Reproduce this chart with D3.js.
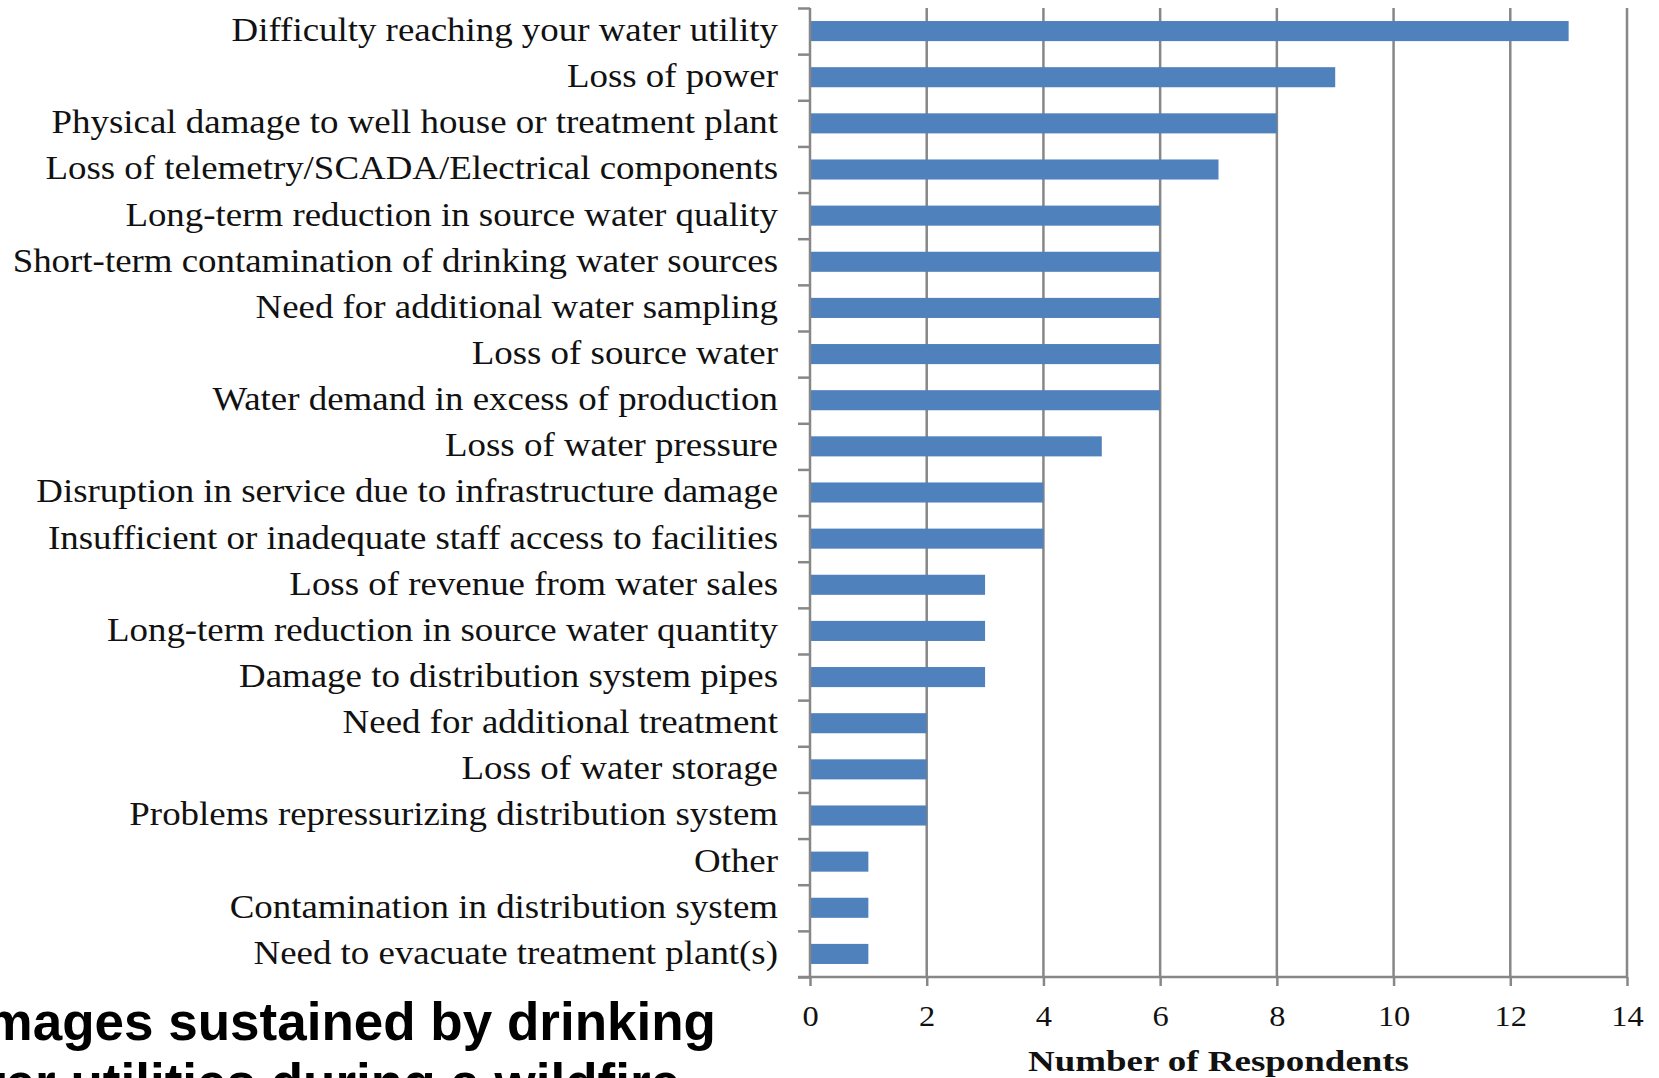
<!DOCTYPE html>
<html>
<head>
<meta charset="utf-8">
<script src="https://cdn.jsdelivr.net/npm/d3@7"></script>
<style>
  html, body { margin: 0; padding: 0; background: #fff; }
  svg { display: block; }
</style>
</head>
<body>
<svg id="chart" width="1659" height="1078"></svg>
<script>
const categories = [
  "Difficulty reaching your water utility",
  "Loss of power",
  "Physical damage to well house or treatment plant",
  "Loss of telemetry/SCADA/Electrical components",
  "Long-term reduction in source water quality",
  "Short-term contamination of drinking water sources",
  "Need for additional water sampling",
  "Loss of source water",
  "Water demand in excess of production",
  "Loss of water pressure",
  "Disruption in service due to infrastructure damage",
  "Insufficient or inadequate staff access to facilities",
  "Loss of revenue from water sales",
  "Long-term reduction in source water quantity",
  "Damage to distribution system pipes",
  "Need for additional treatment",
  "Loss of water storage",
  "Problems repressurizing distribution system",
  "Other",
  "Contamination in distribution system",
  "Need to evacuate treatment plant(s)"
];
const respondents = [13, 9, 8, 7, 6, 6, 6, 6, 6, 5, 4, 4, 3, 3, 3, 2, 2, 2, 1, 1, 1];
const xTicks = [0, 2, 4, 6, 8, 10, 12, 14];
const xAxisTitle = "Number of Respondents";
const titleLines = ["Damages sustained by drinking", "water utilities during a wildfire"];

(function () {
const svg = d3.select("#chart");
const pL = 810, pR = 1627, pT = 8, pB = 977;
const serif = "'Liberation Serif', 'Times New Roman', serif";

const x = d3.scaleLinear().domain([0, 14]).range([pL, pR]);
const y = d3.scaleBand().domain(categories).range([pT, pB])
  .paddingInner(0.565).paddingOuter(0.2825);
const idx = d3.scaleLinear().domain([0, categories.length]).range([pT, pB]);

const grid = "#878787";

function stretch(sel, k) {
  sel.each(function () {
    const w = this.getComputedTextLength();
    d3.select(this).attr("textLength", w * k).attr("lengthAdjust", "spacingAndGlyphs");
  });
}

// gridlines
svg.append("g").selectAll("line")
  .data(xTicks.filter(d => d > 0))
  .join("line")
  .attr("x1", d => x(d)).attr("x2", d => x(d))
  .attr("y1", pT).attr("y2", pB)
  .attr("stroke", grid).attr("stroke-width", 2.5);

// bars
svg.append("g").selectAll("rect")
  .data(categories.map((c, i) => ({c, v: respondents[i]})))
  .join("rect")
  .attr("x", x(0))
  .attr("y", d => y(d.c))
  .attr("width", d => x(d.v) - x(0))
  .attr("height", y.bandwidth())
  .attr("fill", "#4F81BD");

// y boundary ticks + axis line
const yTickAxis = svg.append("g").attr("transform", `translate(${pL},0)`)
  .call(d3.axisLeft(idx).tickValues(d3.range(0, categories.length + 1)).tickSize(12).tickFormat(""));
yTickAxis.selectAll("line").attr("stroke", grid).attr("stroke-width", 2.5);
yTickAxis.select(".domain").attr("stroke", grid).attr("stroke-width", 2.5).attr("d", `M0,${pT}V${pB}`);

// y labels
const yLab = svg.append("g").attr("transform", `translate(${pL},0)`)
  .call(d3.axisLeft(y).tickSize(0).tickPadding(32));
yLab.select(".domain").remove();
yLab.selectAll("text")
  .attr("font-family", serif).attr("font-size", 33).attr("fill", "#111")
  .attr("dy", "0.30em")
  .call(stretch, 1.118);

// x axis
const xAx = svg.append("g").attr("transform", `translate(0,${pB})`)
  .call(d3.axisBottom(x).tickValues(xTicks).tickSize(9).tickPadding(19));
xAx.select(".domain").attr("stroke", grid).attr("stroke-width", 2.5).attr("d", `M${pL - 12},0H${pR}`);
xAx.selectAll("line").attr("stroke", grid).attr("stroke-width", 2.5);
xAx.selectAll("text").attr("font-family", serif).attr("font-size", 30).attr("fill", "#111")
  .call(stretch, 1.08);

// x axis title
svg.append("text")
  .attr("x", (pL + pR) / 2).attr("y", 1071)
  .attr("text-anchor", "middle")
  .attr("font-family", serif).attr("font-weight", "bold").attr("font-size", 29)
  .attr("fill", "#111")
  .text(xAxisTitle)
  .attr("textLength", 381).attr("lengthAdjust", "spacingAndGlyphs");

// slide title (partially cropped, as in the reference)
const title = svg.append("g")
  .attr("font-family", "'Liberation Sans', Arial, sans-serif")
  .attr("font-weight", "bold").attr("font-size", 53).attr("fill", "#000");
title.append("text").attr("x", 716).attr("y", 1040).attr("text-anchor", "end").text(titleLines[0]);
title.append("text").attr("x", 680).attr("y", 1101).attr("text-anchor", "end").text(titleLines[1]);
})();
</script>
</body>
</html>
